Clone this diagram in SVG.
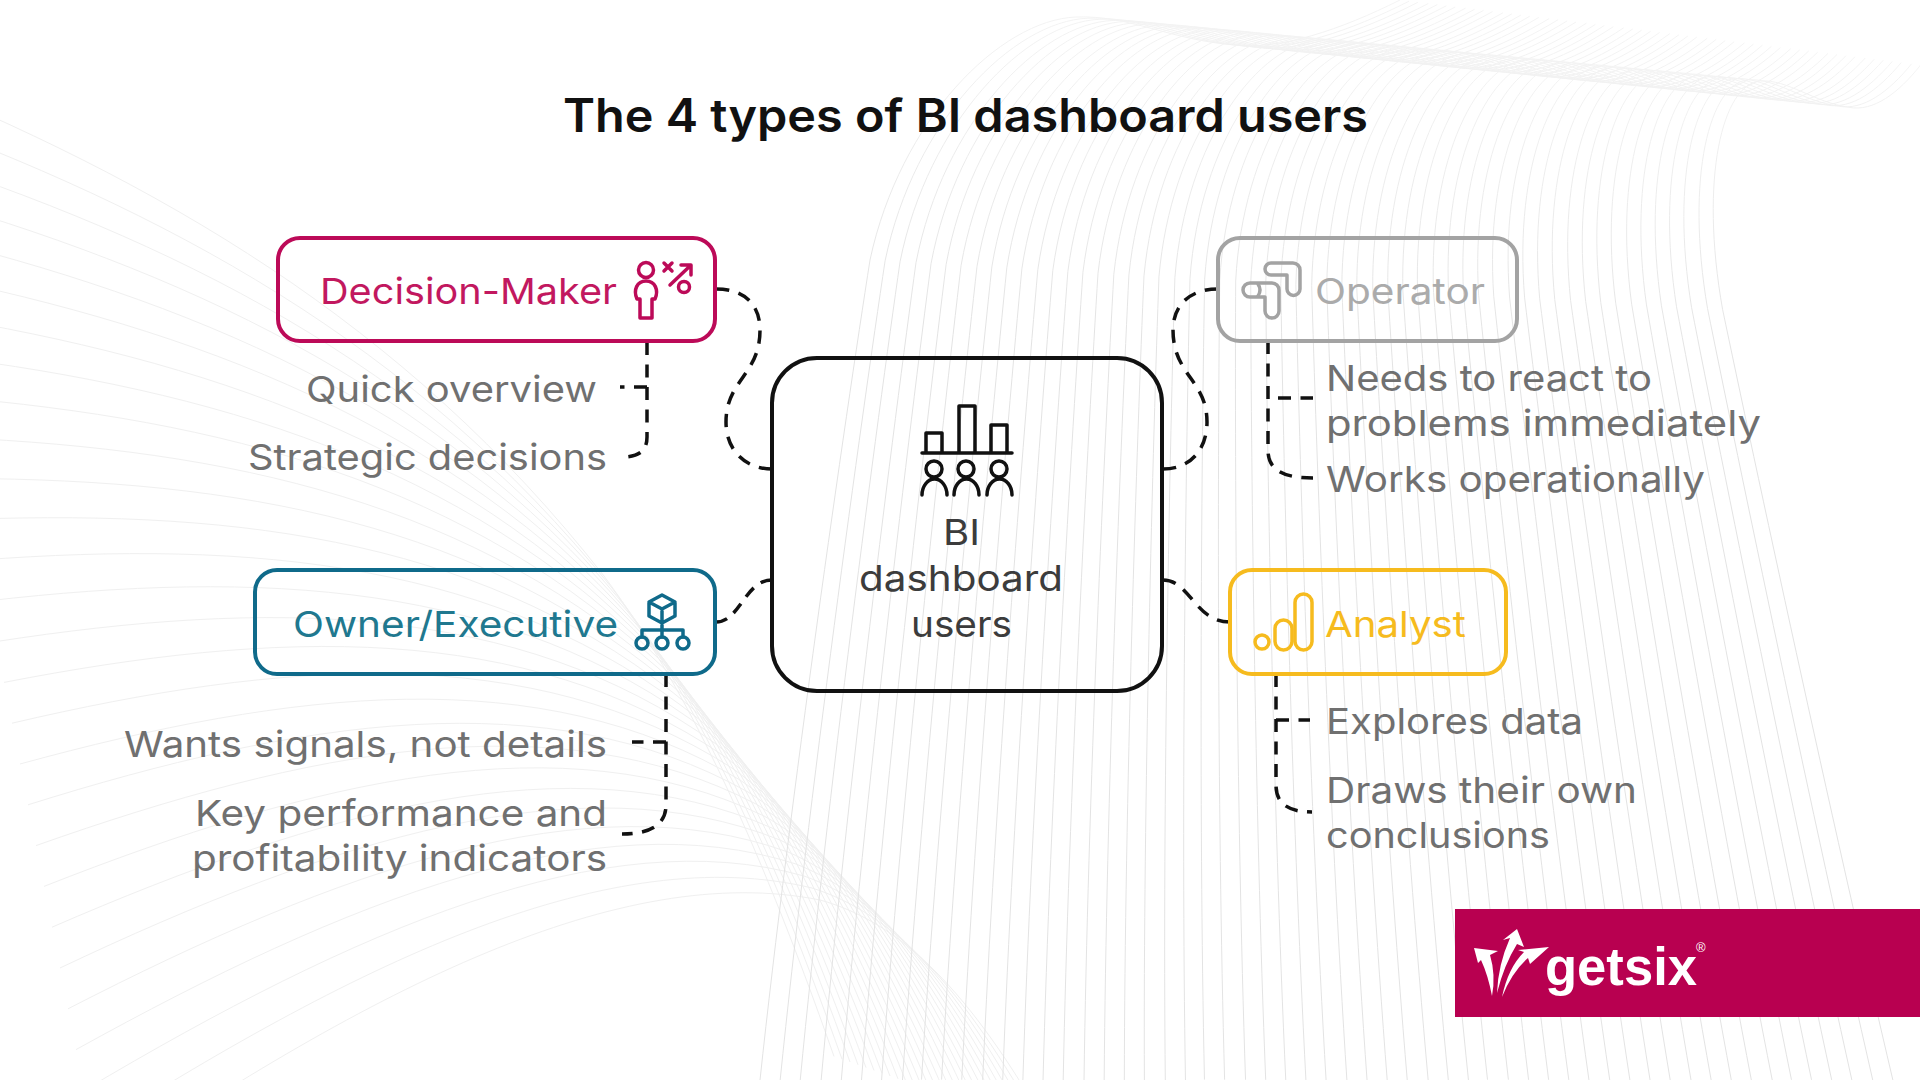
<svg xmlns="http://www.w3.org/2000/svg" xmlns:xlink="http://www.w3.org/1999/xlink" width="1920" height="1080" viewBox="0 0 1920 1080">
<style>
text{font-family:Inter,"Open Sans","Liberation Sans",sans-serif;font-size:36px}
.t{fill:#707070}
.box{fill:none;stroke-width:4}
.ic{fill:none;stroke-width:3.5;stroke-linejoin:round;stroke-linecap:round}
.wr{fill:none;stroke:url(#fade);stroke-width:1;vector-effect:non-scaling-stroke}
.wl{fill:none;stroke:#f0f0f0;stroke-width:1;vector-effect:non-scaling-stroke}
#connectors path{fill:none;stroke:#111;stroke-width:3.5;stroke-dasharray:13 9.5}
</style>
<defs>
<linearGradient id="fade" gradientUnits="userSpaceOnUse" x1="0" y1="0" x2="0" y2="320">
<stop offset="0" stop-color="#f4f4f4"/><stop offset="1" stop-color="#e3e3e3"/>
</linearGradient>
<path id="wr" class="wr" d="M1400 0C1340 30 1280 50 1235 45C1170 40 1130 15 1076 17C1000 20 900 120 870 260C845 420 790 800 760 1080"/>
<path id="wl" class="wl" d="M-20 560C250 540 500 560 700 720C780 790 850 900 930 1090"/>
</defs>
<rect width="1920" height="1080" fill="#fff"/>
<g id="background-waves">
<use href="#wl" transform="matrix(1 .48 0 1 -96 -480)"/><use href="#wl" transform="matrix(1 .44 0 1 -88 -440)"/><use href="#wl" transform="matrix(1 .4 0 1 -80 -400)"/><use href="#wl" transform="matrix(1 .36 0 1 -72 -360)"/><use href="#wl" transform="matrix(1 .32 0 1 -64 -320)"/><use href="#wl" transform="matrix(1 .28 0 1 -56 -280)"/><use href="#wl" transform="matrix(1 .24 0 1 -48 -240)"/><use href="#wl" transform="matrix(1 .2 0 1 -40 -200)"/><use href="#wl" transform="matrix(1 .16 0 1 -32 -160)"/><use href="#wl" transform="matrix(1 .12 0 1 -24 -120)"/><use href="#wl" transform="matrix(1 .08 0 1 -16 -80)"/><use href="#wl" transform="matrix(1 .04 0 1 -8 -40)"/><use href="#wl"/><use href="#wl" transform="matrix(1 -.04 0 1 8 40)"/><use href="#wl" transform="matrix(1 -.08 0 1 16 80)"/><use href="#wl" transform="matrix(1 -.12 0 1 24 120)"/><use href="#wl" transform="matrix(1 -.16 0 1 32 160)"/><use href="#wl" transform="matrix(1 -.2 0 1 40 200)"/><use href="#wl" transform="matrix(1 -.24 0 1 48 240)"/><use href="#wl" transform="matrix(1 -.28 0 1 56 280)"/><use href="#wl" transform="matrix(1 -.32 0 1 64 320)"/><use href="#wl" transform="matrix(1 -.36 0 1 72 360)"/><use href="#wl" transform="matrix(1 -.4 0 1 80 400)"/><use href="#wl" transform="matrix(1 -.44 0 1 88 440)"/><use href="#wl" transform="matrix(1 -.48 0 1 96 480)"/><use href="#wl" transform="matrix(1 -.52 0 1 104 520)"/><use href="#wl" transform="matrix(1 -.56 0 1 112 560)"/><use href="#wl" transform="matrix(1 -.6 0 1 120 600)"/>
<use href="#wr"/>
<use href="#wr" transform="matrix(.991 0 .005 .999 21.6 1.2)"/>
<use href="#wr" transform="matrix(.982 0 .01 .998 43.1 2.3)"/>
<use href="#wr" transform="matrix(.974 0 .015 .997 64.7 3.5)"/>
<use href="#wr" transform="matrix(.965 0 .02 .996 86.3 4.6)"/>
<use href="#wr" transform="matrix(.956 0 .025 .995 107.9 5.8)"/>
<use href="#wr" transform="matrix(.947 0 .03 .994 129.4 7)"/>
<use href="#wr" transform="matrix(.939 0 .035 .993 151 8.1)"/>
<use href="#wr" transform="matrix(.93 0 .039 .991 172.6 9.3)"/>
<use href="#wr" transform="matrix(.921 0 .044 .99 194.1 10.4)"/>
<use href="#wr" transform="matrix(.912 0 .049 .989 215.7 11.6)"/>
<use href="#wr" transform="matrix(.904 0 .054 .988 237.3 12.8)"/>
<use href="#wr" transform="matrix(.895 0 .059 .987 258.8 13.9)"/>
<use href="#wr" transform="matrix(.886 0 .064 .986 280.4 15.1)"/>
<use href="#wr" transform="matrix(.877 0 .069 .985 302 16.2)"/>
<use href="#wr" transform="matrix(.868 0 .074 .984 323.6 17.4)"/>
<use href="#wr" transform="matrix(.86 0 .079 .983 345.1 18.6)"/>
<use href="#wr" transform="matrix(.851 0 .084 .982 366.7 19.7)"/>
<use href="#wr" transform="matrix(.842 0 .089 .981 388.3 20.9)"/>
<use href="#wr" transform="matrix(.833 0 .094 .98 409.8 22)"/>
<use href="#wr" transform="matrix(.825 0 .099 .979 431.4 23.2)"/>
<use href="#wr" transform="matrix(.816 0 .104 .978 453 24.4)"/>
<use href="#wr" transform="matrix(.807 0 .108 .976 474.5 25.5)"/>
<use href="#wr" transform="matrix(.798 0 .113 .975 496.1 26.7)"/>
<use href="#wr" transform="matrix(.79 0 .118 .974 517.7 27.8)"/>
<use href="#wr" transform="matrix(.781 0 .123 .973 539.3 29)"/>
<use href="#wr" transform="matrix(.772 0 .128 .972 560.8 30.2)"/>
<use href="#wr" transform="matrix(.763 0 .133 .971 582.4 31.3)"/>
<use href="#wr" transform="matrix(.754 0 .138 .97 604 32.5)"/>
<use href="#wr" transform="matrix(.746 0 .143 .969 625.5 33.6)"/>
<use href="#wr" transform="matrix(.737 0 .148 .968 647.1 34.8)"/>
<use href="#wr" transform="matrix(.728 0 .153 .967 668.7 36)"/>
<use href="#wr" transform="matrix(.719 0 .158 .966 690.2 37.1)"/>
<use href="#wr" transform="matrix(.711 0 .163 .965 711.8 38.3)"/>
<use href="#wr" transform="matrix(.702 0 .168 .964 733.4 39.4)"/>
<use href="#wr" transform="matrix(.693 0 .173 .963 755 40.6)"/>
<use href="#wr" transform="matrix(.684 0 .177 .961 776.5 41.8)"/>
<use href="#wr" transform="matrix(.676 0 .182 .96 798.1 42.9)"/>
<use href="#wr" transform="matrix(.667 0 .187 .959 819.7 44.1)"/>
<use href="#wr" transform="matrix(.658 0 .192 .958 841.2 45.2)"/>
<use href="#wr" transform="matrix(.649 0 .197 .957 862.8 46.4)"/>
<use href="#wr" transform="matrix(.64 0 .202 .956 884.4 47.6)"/>
<use href="#wr" transform="matrix(.632 0 .207 .955 905.9 48.7)"/>
<use href="#wr" transform="matrix(.623 0 .212 .954 927.5 49.9)"/>
<use href="#wr" transform="matrix(.614 0 .217 .953 949.1 51)"/>
<use href="#wr" transform="matrix(.605 0 .222 .952 970.7 52.2)"/>
<use href="#wr" transform="matrix(.597 0 .227 .951 992.2 53.4)"/>
<use href="#wr" transform="matrix(.588 0 .232 .95 1013.8 54.5)"/>
<use href="#wr" transform="matrix(.579 0 .237 .949 1035.4 55.7)"/>
<use href="#wr" transform="matrix(.57 0 .242 .948 1056.9 56.8)"/>
<use href="#wr" transform="matrix(.562 0 .247 .947 1078.5 58)"/>
<use href="#wr" transform="matrix(.553 0 .251 .945 1100.1 59.2)"/>
<use href="#wr" transform="matrix(.544 0 .256 .944 1121.6 60.3)"/>
<use href="#wr" transform="matrix(.535 0 .261 .943 1143.2 61.5)"/>
<use href="#wr" transform="matrix(.526 0 .266 .942 1164.8 62.6)"/>
<use href="#wr" transform="matrix(.518 0 .271 .941 1186.4 63.8)"/>
<use href="#wr" transform="matrix(.509 0 .276 .94 1208 65)"/>
</g>
<text id="title" x="563" y="132" textLength="805" lengthAdjust="spacingAndGlyphs" style="font-size:46px;font-weight:600" fill="#111">The 4 types of BI dashboard users</text>
<g id="connectors">
<path pathLength="238" d="M716 289C745 289 760 305 760 330C760 375 726 380 726 422C726 450 745 469 772 469"/>
<path pathLength="238" d="M1218 289C1190 289 1173 305 1173 330C1173 375 1207 380 1207 422C1207 450 1190 469 1163 469"/>
<path pathLength="80.500" d="M716 622C740 622 745 580 772 580"/>
<path pathLength="80.500" d="M1163 580C1190 580 1195 622 1230 622"/>
<path d="M647 342V437C647 450 640 456 625 457"/>
<path d="M647 387H620"/>
<path d="M1268 341V450C1268 468 1280 478 1313 478"/>
<path d="M1278 398H1313"/>
<path d="M1276 674V785C1276 805 1290 812 1312 812"/>
<path d="M1276 720H1310"/>
<path d="M666 674V805C666 825 650 834 622 834"/>
<path d="M666 742H632"/>
</g>
<g id="center">
<rect class="box" x="772" y="358" width="390" height="333" rx="45" stroke="#111"/>
<g class="ic" stroke="#111" stroke-linecap="butt">
<path d="M922 453H1012M926 453V433H942V453M959 453V406H975V453M991 453V425H1007V453"/>
<circle cx="934" cy="469" r="8"/><circle cx="966" cy="469" r="8"/><circle cx="999" cy="469" r="8"/>
<path d="M922 495a12.5 16 0 0 1 25 0M954 495a12.5 16 0 0 1 25 0M987 495a12.5 16 0 0 1 25 0"/>
</g>
<text x="943" y="545" textLength="37" lengthAdjust="spacingAndGlyphs" fill="#3c3c3c">BI</text>
<text x="859" y="591" textLength="204" lengthAdjust="spacingAndGlyphs" fill="#3c3c3c">dashboard</text>
<text x="911" y="637" textLength="101" lengthAdjust="spacingAndGlyphs" fill="#3c3c3c">users</text>
</g>
<g id="decision-maker">
<rect class="box" x="278" y="238" width="437" height="103" rx="22" stroke="#BC0A58"/>
<text x="320" y="304" textLength="297" lengthAdjust="spacingAndGlyphs" fill="#C2185F">Decision-Maker</text>
<g class="ic" stroke="#BC0A58">
<circle cx="646" cy="270" r="7.500"/>
<path d="M637 299C633 290 637 281 646 281C655 281 659 290 655 299H652V318H640V299Z"/>
<path d="M664 263L672 271M672 263L664 271M670 285L690 266M681 265H691V275"/>
<circle cx="684" cy="287" r="5.500"/>
</g>
</g>
<g id="decision-items">
<text class="t" x="306" y="402" textLength="291" lengthAdjust="spacingAndGlyphs">Quick overview</text>
<text class="t" x="248" y="470" textLength="359" lengthAdjust="spacingAndGlyphs">Strategic decisions</text>
</g>
<g id="operator">
<rect class="box" x="1218" y="238" width="299" height="103" rx="22" stroke="#A3A3A3"/>
<text x="1315" y="304" textLength="170" lengthAdjust="spacingAndGlyphs" fill="#ABABAB">Operator</text>
<g class="ic" stroke="#A3A3A3">
<path d="M1271 263H1293a7 7 0 0 1 7 7V289a6.500 6.500 0 0 1 -13 0V275H1271a6 6 0 0 1 0 -12Z"/>
<path d="M1250 283H1272a7 7 0 0 1 7 7V311a7 7 0 0 1 -14 0V297H1250a7 7 0 0 1 0 -14Z"/>
<path d="M1258 284Q1262 290 1258 296"/>
</g>
</g>
<g id="operator-items">
<text class="t" x="1326" y="391" textLength="326" lengthAdjust="spacingAndGlyphs">Needs to react to</text>
<text class="t" x="1326" y="436" textLength="435" lengthAdjust="spacingAndGlyphs">problems immediately</text>
<text class="t" x="1326" y="492" textLength="379" lengthAdjust="spacingAndGlyphs">Works operationally</text>
</g>
<g id="owner-executive">
<rect class="box" x="255" y="570" width="460" height="104" rx="22" stroke="#0F6A8A"/>
<text x="293" y="637" textLength="325" lengthAdjust="spacingAndGlyphs" fill="#20788F">Owner/Executive</text>
<g class="ic" stroke="#0F6A8A">
<path d="M662 595L675 602V616L662 623L649 616V602ZM649 602L662 609L675 602M662 609V630M642 637V630H683V637M662 623V637"/>
<circle cx="642" cy="643" r="6"/><circle cx="662" cy="643" r="6"/><circle cx="683" cy="643" r="6"/>
</g>
</g>
<g id="owner-items">
<text class="t" x="124" y="757" textLength="483" lengthAdjust="spacingAndGlyphs">Wants signals, not details</text>
<text class="t" x="195" y="826" textLength="412" lengthAdjust="spacingAndGlyphs">Key performance and</text>
<text class="t" x="192" y="871" textLength="415" lengthAdjust="spacingAndGlyphs">profitability indicators</text>
</g>
<g id="analyst">
<rect class="box" x="1230" y="570" width="276" height="104" rx="22" stroke="#F6BB1E"/>
<text x="1325" y="637" textLength="141" lengthAdjust="spacingAndGlyphs" fill="#F6BB1E">Analyst</text>
<g class="ic" stroke="#F6BB1E">
<circle cx="1262" cy="642" r="7"/>
<rect x="1275" y="620" width="17" height="30" rx="8.500"/>
<rect x="1295" y="594" width="17" height="56" rx="8.500"/>
</g>
</g>
<g id="analyst-items">
<text class="t" x="1326" y="734" textLength="257" lengthAdjust="spacingAndGlyphs">Explores data</text>
<text class="t" x="1326" y="803" textLength="311" lengthAdjust="spacingAndGlyphs">Draws their own</text>
<text class="t" x="1326" y="848" textLength="224" lengthAdjust="spacingAndGlyphs">conclusions</text>
</g>
<g id="logo">
<rect x="1455" y="909" width="465" height="108" fill="#B80050"/>
<g fill="#fff">
<path d="M1474 948L1498 951L1490 955Q1496 975 1492 996Q1488 975 1481 960L1478 963Z"/>
<path d="M1517 929L1524 947L1517 944Q1504 965 1497 993Q1498 965 1510 938L1503 940Z"/>
<path d="M1549 947L1530 964L1528 958Q1512 972 1502 997Q1508 968 1524 952L1518 950Z"/>
</g>
<text x="1545" y="985" textLength="152" lengthAdjust="spacingAndGlyphs" fill="#fff" style="font-family:'Liberation Sans',sans-serif;font-size:53px;font-weight:700">getsix</text>
<text x="1696" y="952" fill="#fff" style="font-family:'Liberation Sans',sans-serif;font-size:13px">®</text>
</g>
</svg>
